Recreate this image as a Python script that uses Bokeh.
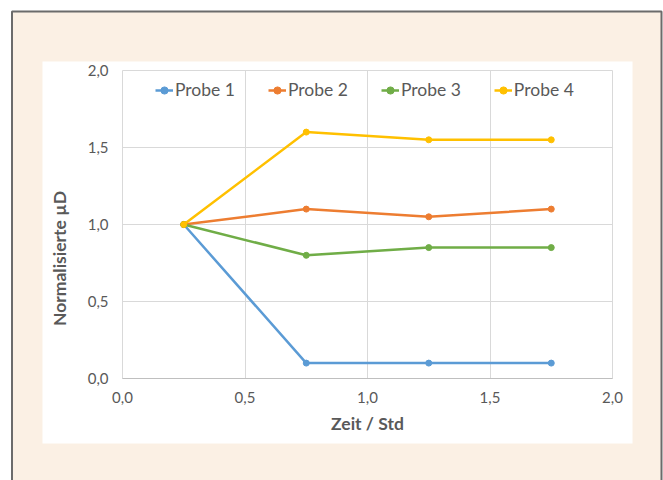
import math
from bokeh.plotting import figure
from bokeh.models import (BoxAnnotation, FixedTicker, CustomJSTickFormatter, Range1d,
                          Legend, LegendItem, Label, LinearAxis, Grid)
from bokeh.embed import file_html
from bokeh.resources import INLINE

# ---- data ----
zeit = [0.25, 0.75, 1.25, 1.75]
probe_1 = [1.0, 0.1, 0.1, 0.1]
probe_2 = [1.0, 1.1, 1.05, 1.1]
probe_3 = [1.0, 0.8, 0.85, 0.85]
probe_4 = [1.0, 1.6, 1.55, 1.55]
series_names = ["Probe 1", "Probe 2", "Probe 3", "Probe 4"]
series_colors = ["#5b9bd5", "#ed7d31", "#70ad47", "#ffc000"]
x_ticks = [0.0, 0.5, 1.0, 1.5, 2.0]
y_ticks = [0.0, 0.5, 1.0, 1.5, 2.0]
x_label = "Zeit / Std"
y_label = "Normalisierte µD"

FONT = "Lato"
BEIGE = "#fbf0e4"
TXT = "#595959"

# ---- layout (pixels) ----
W, H = 663, 480
PX_L, PX_R, PX_T, PX_B = 122, 612, 70, 378      # plot area on the canvas
x_lo, x_hi = x_ticks[0], x_ticks[-1]
y_lo, y_hi = y_ticks[0], y_ticks[-1]
sx = (PX_R - PX_L) / (x_hi - x_lo)
sy = (PX_B - PX_T) / (y_hi - y_lo)
xr = Range1d(x_lo - PX_L / sx, x_lo - PX_L / sx + W / sx)
yr = Range1d(y_lo - (H - PX_B) / sy, y_lo - (H - PX_B) / sy + H / sy)

p = figure(width=W, height=H, output_backend="svg", toolbar_location=None,
           x_range=xr, y_range=yr, x_axis_location=None, y_axis_location=None,
           min_border=0)
p.center = []
p.border_fill_color = "white"
p.background_fill_color = "white"
p.outline_line_color = None

# beige panel with grey border, white chart area (screen units, y measured upward)
outer = BoxAnnotation(left=11.5, right=661, top=H - 11, bottom=-10,
                      left_units="screen", right_units="screen", top_units="screen", bottom_units="screen",
                      fill_color=BEIGE, fill_alpha=1.0, line_color="#6b6b6b", line_alpha=1.0,
                      line_width=2, level="image")
p.add_layout(outer)
white = BoxAnnotation(left=42, right=632, top=H - 61, bottom=H - 443,
                      left_units="screen", right_units="screen", top_units="screen", bottom_units="screen",
                      fill_color="white", fill_alpha=1.0, line_color=None, level="image")
p.add_layout(white)

# grids
xgrid = Grid(dimension=0, ticker=FixedTicker(ticks=x_ticks), cross_bounds=(y_lo, y_hi),
             grid_line_color="#d9d9d9", grid_line_width=1)
ygrid = Grid(dimension=1, ticker=FixedTicker(ticks=y_ticks), cross_bounds=(x_lo, x_hi),
             grid_line_color="#d9d9d9", grid_line_width=1)
p.add_layout(xgrid, "center")
p.add_layout(ygrid, "center")

fmt = CustomJSTickFormatter(code="return tick.toFixed(1).replace('.', ',');")
xaxis = LinearAxis(fixed_location=y_lo, bounds=(x_lo, x_hi), ticker=FixedTicker(ticks=x_ticks),
                   formatter=fmt, axis_label=x_label, axis_line_color="#bfbfbf")
yaxis = LinearAxis(fixed_location=x_lo, bounds=(y_lo, y_hi), ticker=FixedTicker(ticks=y_ticks),
                   formatter=fmt, axis_line_color=None)
for ax in (xaxis, yaxis):
    ax.major_tick_line_color = None
    ax.minor_tick_line_color = None
    ax.major_tick_in = 0
    ax.major_tick_out = 0
    ax.major_label_standoff = 14
    ax.major_label_text_font = FONT
    ax.major_label_text_font_size = "15px"
    ax.major_label_text_color = TXT
    ax.axis_label_text_font = FONT
    ax.axis_label_text_font_size = "17.5px"
    ax.axis_label_text_font_style = "bold"
    ax.axis_label_text_color = TXT
xaxis.major_label_standoff = 13
xaxis.axis_label_standoff = 7
p.add_layout(xaxis, "below")
p.add_layout(yaxis, "left")

ylab = Label(x=59, y=H - 258, x_units="screen", y_units="screen", text=y_label, angle=math.pi / 2,
             text_font=FONT, text_font_size="17.5px", text_font_style="bold", text_color=TXT,
             text_align="center", text_baseline="middle")
p.add_layout(ylab)

items = []
for name, col, ys in zip(series_names, series_colors, [probe_1, probe_2, probe_3, probe_4]):
    r1 = p.line(zeit, ys, line_color=col, line_width=2.5)
    r2 = p.scatter(zeit, ys, size=6, marker="circle", fill_color=col, line_color=col)
    items.append(LegendItem(label=name, renderers=[r1, r2]))

legend = Legend(items=items, orientation="horizontal", location=(155, 380),
                label_text_font=FONT, label_text_font_size="17.5px", label_text_color=TXT,
                glyph_width=18, glyph_height=20, label_standoff=2, spacing=33,
                padding=0, margin=0, background_fill_alpha=0, border_line_color=None)
p.add_layout(legend, "center")

open("out.html", "w").write(file_html(p, INLINE))
